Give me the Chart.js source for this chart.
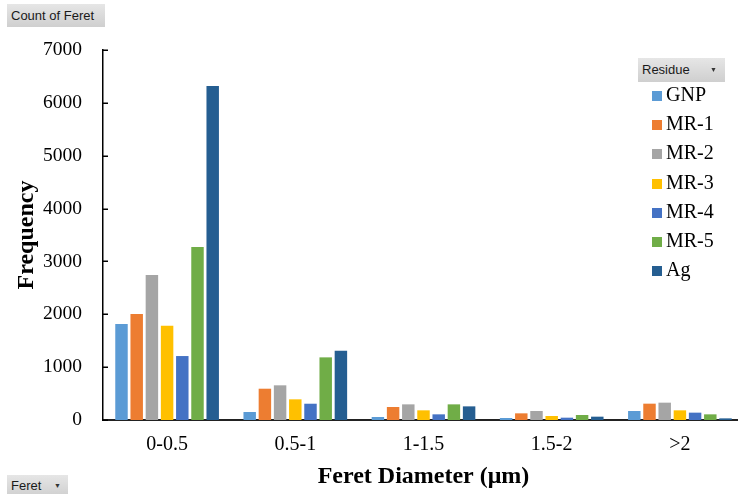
<!DOCTYPE html>
<html>
<head>
<meta charset="utf-8">
<script src="https://cdn.jsdelivr.net/npm/chart.js@4"></script>
<style>
  html, body { margin: 0; padding: 0; background: #fff; overflow: hidden; }
  #wrap { position: relative; width: 738px; height: 494px; overflow: hidden; }
  canvas { position: absolute; left: 0; top: 0; }
  .btn {
    position: absolute;
    background: linear-gradient(#e6e6e6, #cfcfcf);
    color: #1a1a1a;
    font-family: "Liberation Sans", Arial, sans-serif;
    font-size: 13px;
    box-sizing: border-box;
    white-space: nowrap;
  }
  .arrow { position: absolute; font-size: 7px; color: #333; }
  .leg { position: absolute; font-family: "Liberation Serif", serif; font-size: 20px; color: #000; white-space: nowrap; }
  .sw { position: absolute; width: 10px; height: 10px; }
</style>
</head>
<body>
<div id="wrap">
  <canvas id="c" width="760" height="494"></canvas>
  <div class="btn" style="left:7px;top:4px;width:98px;height:23px;padding:4px 0 0 4px;">Count of Feret</div>
  <div class="btn" style="left:7px;top:475px;width:61px;height:22px;padding:3px 0 0 4px;">Feret<span class="arrow" style="left:47px;top:7px;">▼</span></div>
  <div class="btn" style="left:638px;top:58px;width:87px;height:24px;padding:4px 0 0 4px;">Residue<span class="arrow" style="left:72px;top:8px;">▼</span></div>
  <div id="legend"></div>
</div>
<script>
const categories = ["0-0.5", "0.5-1", "1-1.5", "1.5-2", ">2"];
const seriesNames = ["GNP", "MR-1", "MR-2", "MR-3", "MR-4", "MR-5", "Ag"];
const GNP  = [1816, 151, 57, 38, 170];
const MR1  = [2005, 592, 246, 126, 309];
const MR2  = [2743, 656, 296, 170, 328];
const MR3  = [1785, 391, 183, 76, 183];
const MR4  = [1210, 308, 107, 44, 139];
const MR5  = [3273, 1185, 296, 95, 107];
const Ag   = [6320, 1311, 258, 63, 31];
const seriesValues = [GNP, MR1, MR2, MR3, MR4, MR5, Ag];
const colors = ["#5B9BD5", "#ED7D31", "#A5A5A5", "#FFC000", "#4472C4", "#70AD47", "#255E91"];
const yTicks = [0, 1000, 2000, 3000, 4000, 5000, 6000, 7000];

// HTML legend (Excel pivot-style)
const legendEl = document.getElementById('legend');
seriesNames.forEach((name, i) => {
  const cy = 95 + i * 29.2;
  const sw = document.createElement('div');
  sw.className = 'sw';
  sw.style.left = '652px';
  sw.style.top = (cy - 4) + 'px';
  sw.style.background = colors[i];
  legendEl.appendChild(sw);
  const t = document.createElement('div');
  t.className = 'leg';
  t.style.left = '666px';
  t.style.top = (cy - 12) + 'px';
  t.textContent = name;
  legendEl.appendChild(t);
});

const serif = "'Liberation Serif', 'Times New Roman', serif";

const innerTicks = {
  id: 'innerTicks',
  afterDraw(chart) {
    const y = chart.scales.y;
    const ctx = chart.ctx;
    ctx.save();
    ctx.strokeStyle = '#000';
    ctx.lineWidth = 1.5;
    yTicks.forEach(v => {
      const py = Math.round(y.getPixelForValue(v)) + 0.25;
      ctx.beginPath();
      ctx.moveTo(chart.chartArea.left, py);
      ctx.lineTo(chart.chartArea.left + 5, py);
      ctx.stroke();
    });
    ctx.restore();
  }
};

new Chart(document.getElementById('c'), {
  type: 'bar',
  data: {
    labels: categories,
    datasets: seriesNames.map((n, i) => ({
      label: n,
      data: seriesValues[i],
      backgroundColor: colors[i],
      borderWidth: 0,
      barPercentage: 0.82,
      categoryPercentage: 0.83
    }))
  },
  options: {
    responsive: false,
    animation: false,
    layout: { padding: { left: 0, right: 16, top: 50, bottom: 0 } },
    plugins: { legend: { display: false }, tooltip: { enabled: false } },
    scales: {
      x: {
        grid: { display: false, drawTicks: false },
        border: { display: true, color: '#222', width: 2 },
        ticks: { color: '#000', font: { family: serif, size: 20 }, padding: 13 },
        title: { display: true, text: 'Feret Diameter (μm)', color: '#000',
                 font: { family: serif, size: 24, weight: 'bold' }, padding: { top: 0, bottom: 3 } },
        afterFit(s) { s.height = 74; }
      },
      y: {
        min: 0, max: 7000,
        grid: { display: false, drawTicks: false },
        border: { display: true, color: '#000', width: 1.5 },
        afterBuildTicks(s) { s.ticks = yTicks.map(v => ({ value: v })); },
        ticks: { color: '#000', font: { family: serif, size: 19.5 }, padding: 21,
                 callback: (v) => String(v) },
        title: { display: true, text: 'Frequency', color: '#000',
                 font: { family: serif, size: 24, weight: 'bold' }, padding: { top: 12.6, bottom: 0 } },
        afterFit(s) { s.width = 103; }
      }
    }
  },
  plugins: [innerTicks]
});
</script>
</body>
</html>
